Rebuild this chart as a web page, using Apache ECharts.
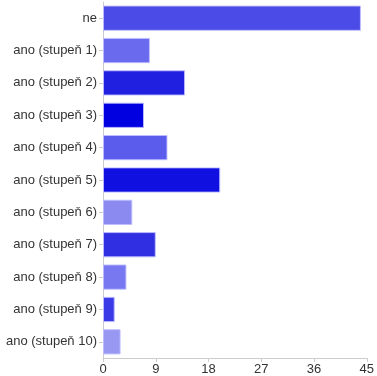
<!DOCTYPE html>
<html>
<head>
<meta charset="utf-8">
<script src="https://cdn.jsdelivr.net/npm/echarts@6/dist/echarts.min.js"></script>
<style>
  html, body { margin: 0; padding: 0; background: #fff; }
  #chart { width: 377px; height: 376px; }
</style>
</head>
<body>
<div id="chart"></div>
<script>
// answers, top to bottom as drawn
const categories = [
  'ne', 'ano (stupeň 1)', 'ano (stupeň 2)', 'ano (stupeň 3)', 'ano (stupeň 4)',
  'ano (stupeň 5)', 'ano (stupeň 6)', 'ano (stupeň 7)', 'ano (stupeň 8)',
  'ano (stupeň 9)', 'ano (stupeň 10)'
];
const counts = [44, 8, 14, 7, 11, 20, 5, 9, 4, 2, 3];
const barColors = [
  '#4b4be8', '#6a6aee', '#2020e0', '#0000e0', '#5b5bec', '#1010e0',
  '#8a8af0', '#3030e2', '#7878f0', '#3a3ae6', '#9898f2'
];
const xTicks = [0, 9, 18, 27, 36, 45];

const chart = echarts.init(document.getElementById('chart'));

// category axis runs bottom-up, so reverse to keep "ne" on top
const cats = categories.slice().reverse();
const data = counts.map((v, i) => ({
  value: v,
  itemStyle: { color: barColors[i] }
})).reverse();

const labelFont = {
  fontFamily: '"Liberation Sans", Arial, sans-serif',
  fontSize: 13,
  color: '#333'
};

chart.setOption({
  animation: false,
  backgroundColor: '#fff',
  grid: {
    left: 103,
    right: 8,
    top: 2,
    bottom: 17,
    containLabel: false
  },
  xAxis: {
    type: 'value',
    min: xTicks[0],
    max: xTicks[xTicks.length - 1],
    interval: 9,
    axisLine: { show: true, lineStyle: { color: '#ccc', width: 1 } },
    axisTick: { show: true, length: 4, lineStyle: { color: '#ccc' } },
    splitLine: { show: false },
    axisLabel: { ...labelFont, margin: 5 }
  },
  yAxis: {
    type: 'category',
    data: cats,
    axisLine: { show: true, lineStyle: { color: '#ccc', width: 1 } },
    axisTick: { show: true, alignWithLabel: true, length: 4, lineStyle: { color: '#ccc' } },
    axisLabel: { ...labelFont, margin: 6 }
  },
  series: [{
    type: 'bar',
    data: data,
    barCategoryGap: '22%',
    itemStyle: {
      borderColor: 'rgba(190,190,255,0.9)',
      borderWidth: 1
    }
  }]
});
</script>
</body>
</html>
